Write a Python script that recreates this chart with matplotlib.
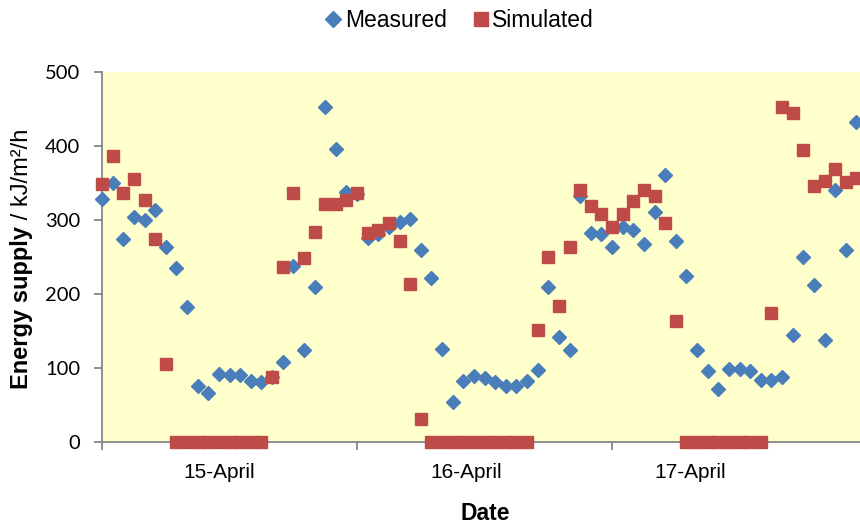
import matplotlib
matplotlib.use("Agg")
import matplotlib.pyplot as plt
import matplotlib.transforms as mtransforms

# ---- data (hourly values, hour 0..71) ----
hours = list(range(72))
measured = [329, 350, 274, 304, 300, 313, 263, 235, 183, 76,
            66, 92, 90, 90, 83, 81, 88, 108, 238, 125,
            209, 453, 396, 338, 335, 276, 281, 291, 297, 302,
            259, 222, 126, 54, 83, 89, 86, 81, 76, 76,
            82, 97, 210, 142, 124, 332, 282, 281, 264, 290,
            286, 268, 311, 361, 272, 225, 125, 96, 72, 99,
            99, 96, 84, 84, 88, 144, 250, 212, 138, 340,
            259, 432]
simulated = [349, 386, 336, 355, 327, 275, 105, 0, 0, 0,
             0, 0, 0, 0, 0, 0, 88, 237, 337, 248,
             284, 322, 322, 327, 337, 282, 287, 296, 272, 213,
             31, 0, 0, 0, 0, 0, 0, 0, 0, 0,
             0, 151, 250, 184, 264, 340, 319, 308, 290, 308,
             326, 340, 332, 296, 163, 0, 0, 0, 0, 0,
             0, 0, 0, 175, 453, 444, 395, 346, 353, 369,
             351, 357]
day_ticks = [0, 24, 48]
day_labels = ["15-April", "16-April", "17-April"]
day_label_pos = [11.0, 34.3, 55.4]
yticks = [0, 100, 200, 300, 400, 500]

blue = "#4A7EBB"
red = "#BE4B48"
axis_grey = "#868686"

fig = plt.figure(figsize=(8.6, 5.24), dpi=100)
ax = fig.add_axes([102 / 860, (524 - 442) / 524, (860 - 102) / 860, 370 / 524])
ax.set_facecolor("#FFFFCC")

ax.plot(hours, measured, linestyle="none", marker="D", markersize=7.4,
        color=blue, markeredgecolor=blue, clip_on=False, zorder=3, label="Measured")
ax.plot(hours, simulated, linestyle="none", marker="s", markersize=8.2,
        color=red, markeredgecolor=red, clip_on=False, zorder=4, label="Simulated")

ax.set_xlim(0, 758 / 10.625)
ax.set_ylim(0, 500)

for s in ["top", "right"]:
    ax.spines[s].set_visible(False)
for s in ["left", "bottom"]:
    ax.spines[s].set_color(axis_grey)
    ax.spines[s].set_linewidth(1.3)
    ax.spines[s].set_zorder(2)

ax.set_yticks(yticks)
ax.set_yticklabels([str(v) for v in yticks], fontfamily="Lato", fontsize=14.5)
ax.tick_params(axis="y", direction="out", length=5.5, width=1.3, color=axis_grey, pad=10)

ax.set_xticks(day_ticks)
ax.set_xticklabels([])
ax.tick_params(axis="x", direction="out", length=5.5, width=1.3, color=axis_grey)

trans = mtransforms.blended_transform_factory(ax.transData, fig.transFigure)
for p, lab in zip(day_label_pos, day_labels):
    ax.text(p, 1 - 473 / 524, lab, transform=trans, ha="center", va="center",
            fontfamily="Liberation Sans", fontsize=15)

fig.text(485 / 860, 1 - 514 / 524, "Date", ha="center", va="center",
         fontfamily="Liberation Sans", fontweight="bold", fontsize=16.5)

# y label: bold part + regular part, laid end to end
ylab_fs = 17
t1 = fig.text(22 / 860, 1 - 389 / 524, "Energy supply", rotation=90,
              ha="center", va="bottom", fontfamily="Liberation Sans",
              fontweight="bold", fontsize=ylab_fs)
fig.canvas.draw()
bb = t1.get_window_extent(fig.canvas.get_renderer())
fig.text(22 / 860, bb.y1 / fig.bbox.height, " / kJ/m\u00b2/h", rotation=90,
         ha="center", va="bottom", fontfamily="Liberation Sans",
         fontweight="normal", fontsize=ylab_fs)

leg = fig.legend(loc="center", bbox_to_anchor=(458 / 860, 1 - 21 / 524), ncol=2,
                 frameon=False, prop={"family": "Liberation Sans", "size": 16.5},
                 handletextpad=0.0, columnspacing=1.0, handlelength=1.0,
                 markerscale=1.15)

fig.savefig("out.png", dpi=100)
